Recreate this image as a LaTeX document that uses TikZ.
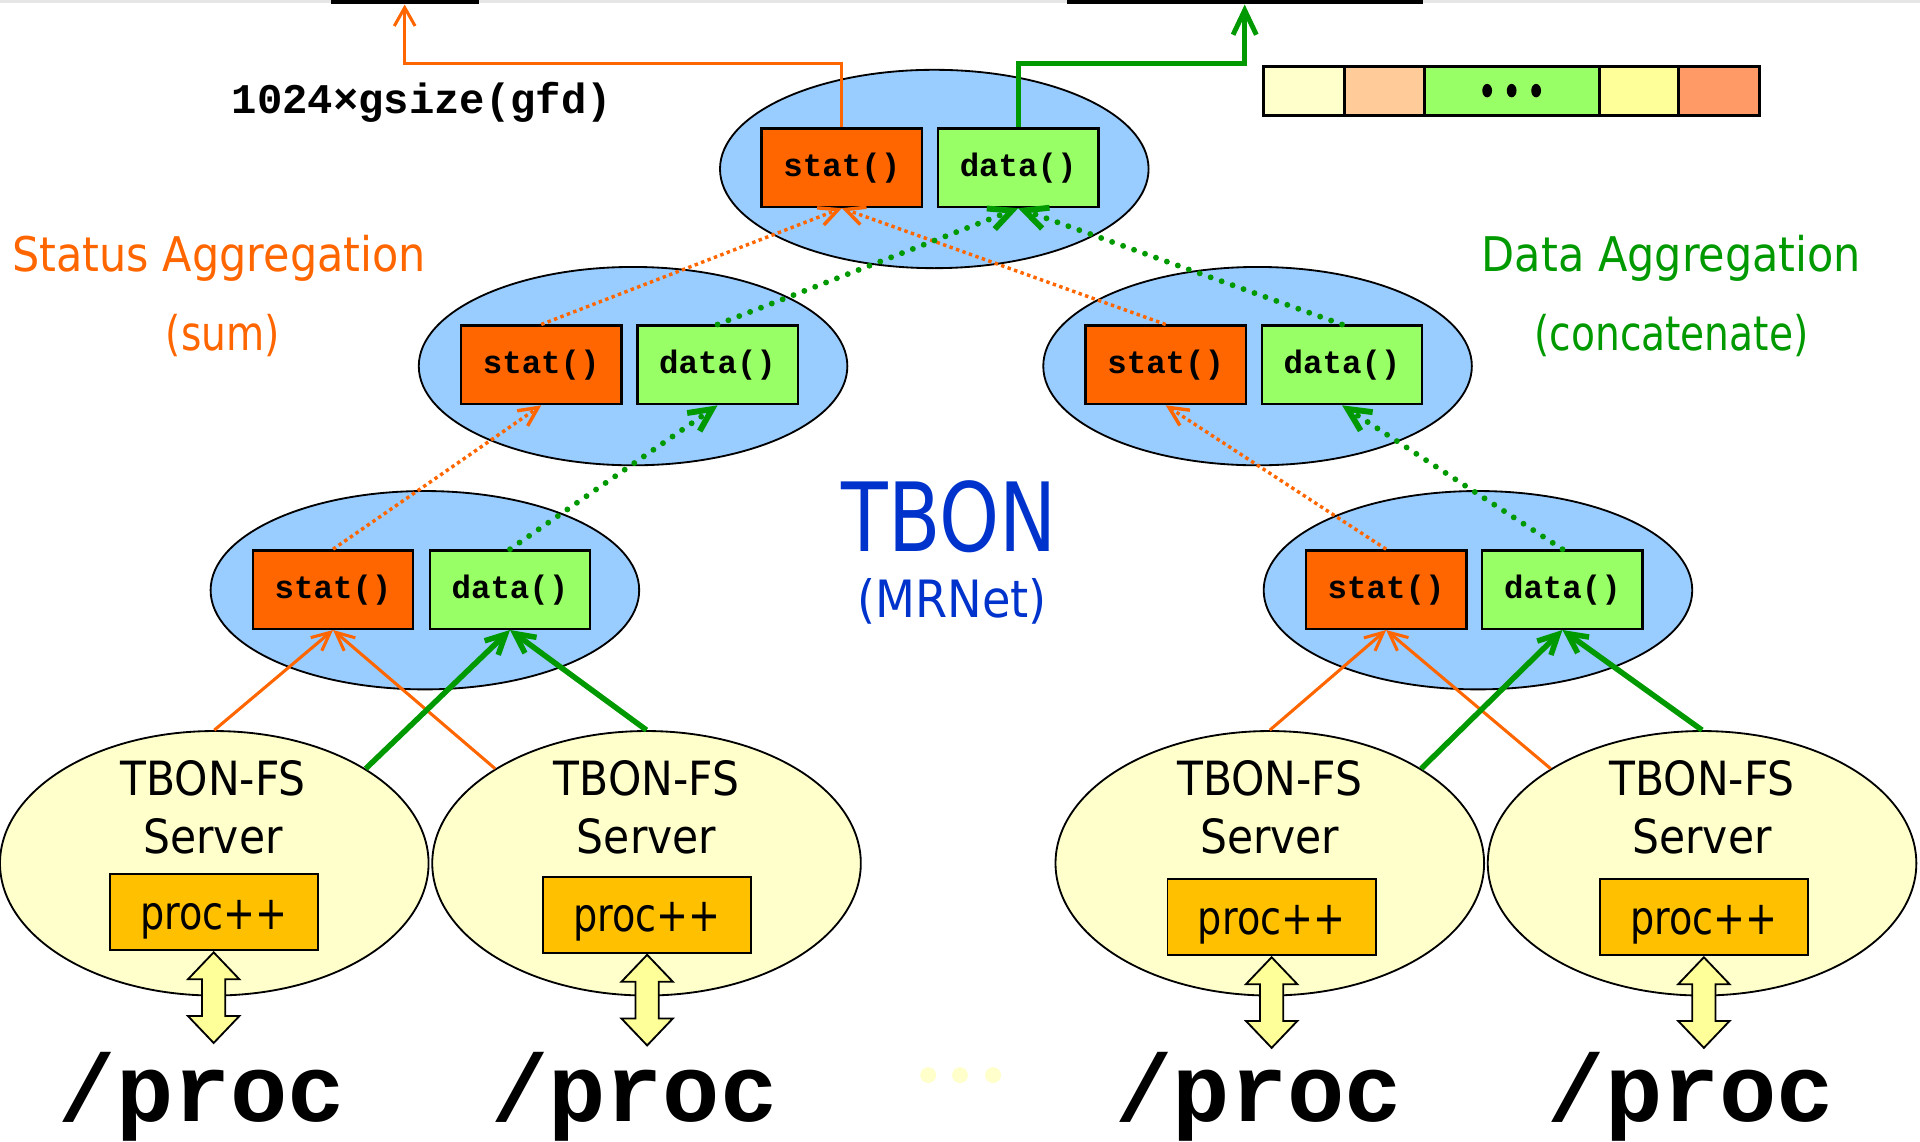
\documentclass[tikz,border=0pt]{standalone}
\usepackage{fontspec}
\usetikzlibrary{shapes.geometric,arrows.meta,calc}

\newfontfamily\vsans[FakeStretch=0.9]{DejaVu Sans}
\newfontfamily\vsansn[FakeStretch=0.82]{DejaVu Sans}
\newfontfamily\tbonfont[FakeStretch=0.8]{DejaVu Sans}
\newfontfamily\procfont[FakeStretch=0.82]{DejaVu Sans}
\newfontfamily\cmono{Liberation Mono}

\definecolor{statorange}{HTML}{FF6600}
\definecolor{datagreen}{HTML}{99FF66}
\definecolor{linegreen}{HTML}{009900}
\definecolor{treeblue}{HTML}{99CCFF}
\definecolor{serveryellow}{HTML}{FFFFCC}
\definecolor{procgold}{HTML}{FFC000}
\definecolor{tbonblue}{HTML}{0033CC}
\definecolor{arrowyellow}{HTML}{FFFF99}
\definecolor{cellpeach}{HTML}{FFCC99}
\definecolor{cellsalmon}{HTML}{FF9966}
\definecolor{topgray}{HTML}{E6E6E6}

\begin{document}
\begin{tikzpicture}[x=1pt,y=-1pt,
  tree/.style={ellipse, draw=black, line width=1.5pt, fill=treeblue,
    minimum width=350pt, minimum height=162pt, inner sep=0pt},
  server/.style={ellipse, draw=black, line width=1.5pt, fill=serveryellow,
    minimum width=350pt, minimum height=216pt, inner sep=0pt},
  fnbox/.style={rectangle, draw=black, line width=2pt,
    minimum width=131pt, minimum height=64pt, inner sep=0pt,
    text height=14.6pt, text depth=0pt,
    font=\cmono\bfseries\fontsize{26.5}{30}\selectfont},
  statbox/.style={fnbox, fill=statorange},
  databox/.style={fnbox, fill=datagreen},
  procbox/.style={rectangle, draw=black, line width=1.5pt, fill=procgold,
    minimum width=170pt, minimum height=62pt, inner sep=0pt,
    text height=28pt, text depth=0pt,
    font=\procfont\fontsize{38}{44}\selectfont},
  srvtext/.style={anchor=base, inner sep=0pt,
    font=\vsans\fontsize{38.5}{46}\selectfont},
  pathtext/.style={anchor=base, inner sep=0pt,
    font=\cmono\bfseries\fontsize{78}{88}\selectfont},
  cell/.style={rectangle, draw=black, line width=2.5pt,
    minimum height=40pt, inner sep=0pt},
  bar/.style={rectangle, fill=black, minimum height=3.5pt, inner sep=0pt},
  osolid/.style={draw=statorange, line width=2.5pt,
    -{Straight Barb[length=15pt,width=14pt]}},
  gsolid/.style={draw=linegreen, line width=4.5pt,
    -{Straight Barb[length=16pt,width=16pt]}},
  odot/.style={draw=statorange, line width=2.8pt, dash pattern=on 2.8pt off 2.8pt,
    -{Straight Barb[length=15.5pt,width=15pt]}},
  gdot/.style={draw=linegreen, line width=4.8pt, line cap=round,
    dash pattern=on 0pt off 9.5pt, -{Straight Barb[length=18.5pt,width=18pt]}},
  otop/.style={draw=statorange, line width=2.5pt,
    -{Straight Barb[length=15pt,width=17pt]}},
  gtop/.style={draw=linegreen, line width=4pt,
    -{Straight Barb[length=20pt,width=19pt]}},
  dblarrow/.style={draw=black, line width=1.5pt, fill=arrowyellow, line join=miter},
  dot/.style={circle, fill=serveryellow, minimum size=13pt, inner sep=0pt},
]
\useasboundingbox (0,0) rectangle (1568,932.6);

% top rule with the two output bars
\fill[topgray] (0,0) rectangle (1568,2.5);
\node[bar, minimum width=121pt] (obar) at (330.5,1.75) {};
\node[bar, minimum width=291pt] (gbar) at (1016.5,1.75) {};
\coordinate (yline) at (0,52);

% concatenated data strip
\node[cell, fill=serveryellow, minimum width=66pt] (c1) at (1065,74) {};
\node[cell, fill=cellpeach, minimum width=65pt] (c2) at (1130.5,74) {};
\node[cell, fill=datagreen, minimum width=143pt] (c3) at (1234.5,74) {};
\node[cell, fill=arrowyellow, minimum width=65pt] (c4) at (1338.5,74) {};
\node[cell, fill=cellsalmon, minimum width=66pt] (c5) at (1404,74) {};
\foreach \dx in {-20,0,20}
  \fill[black] ($(c3.center)+(\dx,0)$) ellipse [x radius=4pt, y radius=5.5pt];

% MRNet tree nodes
\node[tree] (top) at (763,138) {};
\node[tree] (ml) at (517,299) {};
\node[tree] (mr) at (1027,299) {};
\node[tree] (bl) at (347,482) {};
\node[tree] (br) at (1207,482) {};

% back-end servers
\node[server] (s1) at (175,705) {};
\node[server] (s2) at (528,705) {};
\node[server] (s3) at (1037,705) {};
\node[server] (s4) at (1390,705) {};

% filter boxes
\node[statbox] (ts) at (687.5,137) {stat()};
\node[databox] (td) at (831.5,137) {data()};
\node[statbox] (mls) at (442,298) {stat()};
\node[databox] (mld) at (586,298) {data()};
\node[statbox] (mrs) at (952,298) {stat()};
\node[databox] (mrd) at (1096,298) {data()};
\node[statbox] (bls) at (272,481.5) {stat()};
\node[databox] (bld) at (416.5,481.5) {data()};
\node[statbox] (brs) at (1132,481.5) {stat()};
\node[databox] (brd) at (1276,481.5) {data()};

% results leaving the root
\draw[otop] (ts.north) -- (ts.north |- yline) -| (obar.south);
\draw[gtop] (td.north) -- (td.north |- yline) -| (gbar.south);
\node[anchor=base west, inner sep=0pt,
  font=\cmono\bfseries\fontsize{34.5}{40}\selectfont] (gfd) at (189,93) {1024×gsize(gfd)};

% servers to leaf communication processes
\draw[osolid] (s1.north) -- (bls.south);
\draw[osolid] (s2.148) -- (bls.south);
\draw[gsolid] (s1.32) -- (bld.south);
\draw[gsolid] (s2.north) -- (bld.south);
\draw[osolid] (s3.north) -- (brs.south);
\draw[osolid] (s4.148) -- (brs.south);
\draw[gsolid] (s3.32) -- (brd.south);
\draw[gsolid] (s4.north) -- (brd.south);

% internal tree levels
\draw[odot] (bls.north) -- (mls.south);
\draw[gdot] (bld.north) -- (mld.south);
\draw[odot] (brs.north) -- (mrs.south);
\draw[gdot] (brd.north) -- (mrd.south);
\draw[odot] (mls.north) -- (ts.south);
\draw[odot] (mrs.north) -- (ts.south);
\draw[gdot] (mld.north) -- (td.south);
\draw[gdot] (mrd.north) -- (td.south);

% server labels
\node[srvtext] (s1a) at (174,650) {TBON-FS};
\node[srvtext] (s1b) at (174,697) {Server};
\node[srvtext] (s2a) at (528,650) {TBON-FS};
\node[srvtext] (s2b) at (528,697) {Server};
\node[srvtext] (s3a) at (1037,650) {TBON-FS};
\node[srvtext] (s3b) at (1037,697) {Server};
\node[srvtext] (s4a) at (1390,650) {TBON-FS};
\node[srvtext] (s4b) at (1390,697) {Server};

\node[procbox] (p1) at (174.5,745) {proc++};
\node[procbox] (p2) at (528.5,747) {proc++};
\node[procbox] (p3) at (1038.5,749) {proc++};
\node[procbox] (p4) at (1391.5,749) {proc++};

% /proc access arrows
\foreach \p in {p1,p2,p3,p4}
  \filldraw[dblarrow] ($(\p.south)+(0,1)$) -- ++(21,22) -- ++(-11.5,0) -- ++(0,30)
    -- ++(11.5,0) -- ++(-21,22) -- ++(-21,-22) -- ++(11.5,0) -- ++(0,-30)
    -- ++(-11.5,0) -- cycle;

\node[pathtext] (f1) at (165,916) {/proc};
\node[pathtext] (f2) at (518,916) {/proc};
\node[pathtext] (f3) at (1028,916) {/proc};
\node[pathtext] (f4) at (1381,916) {/proc};

\node[dot] (e1) at (758,878) {};
\node[dot] (e2) at (784,878) {};
\node[dot] (e3) at (811,878) {};

% side annotations
\node[anchor=base, inner sep=0pt, text=statorange,
  font=\vsans\fontsize{39}{46}\selectfont] (sagg) at (179,222) {Status Aggregation};
\node[anchor=base, inner sep=0pt, text=statorange,
  font=\vsansn\fontsize{39}{46}\selectfont] (ssum) at (182,286) {(sum)};
\node[anchor=base, inner sep=0pt, text=linegreen,
  font=\vsans\fontsize{39}{46}\selectfont] (dagg) at (1365,222) {Data Aggregation};
\node[anchor=base, inner sep=0pt, text=linegreen,
  font=\vsansn\fontsize{39}{46}\selectfont] (dcat) at (1365,286) {(concatenate)};

\node[anchor=base, inner sep=0pt, text=tbonblue,
  font=\tbonfont\fontsize{78}{90}\selectfont] (tbon) at (775,450) {TBON};
\node[anchor=base, inner sep=0pt, text=tbonblue,
  font=\vsans\fontsize{42}{50}\selectfont] (mrnet) at (777.5,504) {(MRNet)};
\end{tikzpicture}
\end{document}
